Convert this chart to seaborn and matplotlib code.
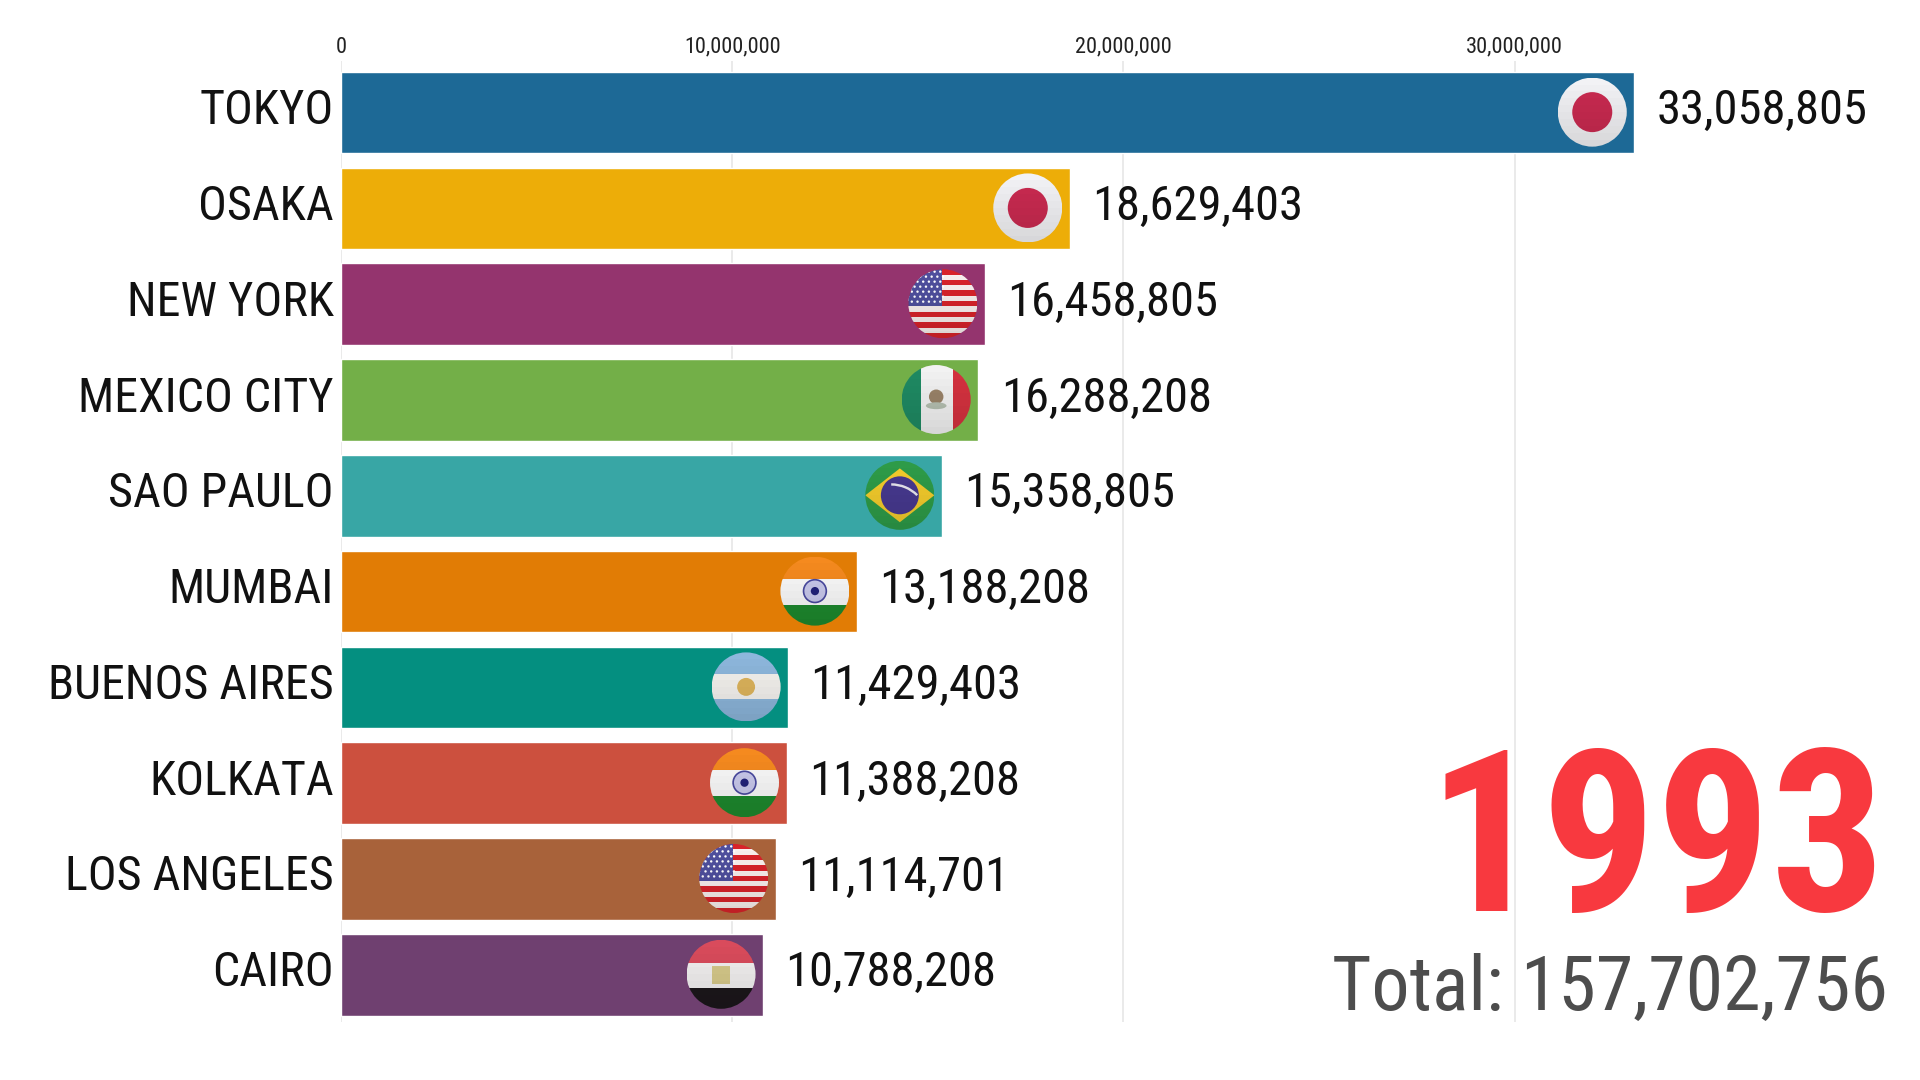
import matplotlib
matplotlib.use("Agg")
import matplotlib.pyplot as plt
import seaborn as sns
import pandas as pd
import numpy as np
from matplotlib.patches import Circle, Rectangle, Polygon, Ellipse, Wedge
from matplotlib.transforms import Affine2D
from matplotlib.ticker import FuncFormatter

cities = ["TOKYO", "OSAKA", "NEW YORK", "MEXICO CITY", "SAO PAULO", "MUMBAI",
          "BUENOS AIRES", "KOLKATA", "LOS ANGELES", "CAIRO"]
population = [33058805, 18629403, 16458805, 16288208, 15358805, 13188208,
              11429403, 11388208, 11114701, 10788208]
flags = ["jp", "jp", "us", "mx", "br", "in", "ar", "in", "us", "eg"]
bar_colors = ["#1D6996", "#EDAD08", "#94346E", "#73AF48", "#38A6A5", "#E17C05",
              "#048F80", "#CC503E", "#A8623A", "#6F4070"]
x_ticks = [0, 10000000, 20000000, 30000000]
year_label = "1993"
total_label = "Total: 157,702,756"

W, H = 1920, 1080
DPI = 100
sns.set_theme(style="white")
FONT = ["Roboto Condensed", "Liberation Sans Narrow", "Roboto", "DejaVu Sans"]
plt.rcParams["font.family"] = FONT

fig = plt.figure(figsize=(W / DPI, H / DPI), dpi=DPI, facecolor="white")
left, right, top, bottom = 341, 1905, 61, 1022
ax = fig.add_axes([left / W, 1 - bottom / H, (right - left) / W, (bottom - top) / H])

df = pd.DataFrame({"city": cities, "population": population})
sns.barplot(data=df, y="city", x="population", hue="city", palette=bar_colors,
            dodge=False, legend=False, width=0.852, ax=ax, saturation=1, zorder=3)

px_per_unit = 391.2 / 10000000
ax.set_xlim(0, (right - left) / px_per_unit)
ax.set_ylim(9.493, -0.539)
ax.set_xlabel("")
ax.set_ylabel("")
for s in ax.spines.values():
    s.set_visible(False)
ax.xaxis.tick_top()
ax.set_xticks(x_ticks)
ax.xaxis.set_major_formatter(FuncFormatter(lambda v, _: f"{int(v):,}"))
ax.tick_params(axis="x", length=0, pad=2.5, labelsize=16, labelcolor="#222222")
ax.grid(axis="x", color="#E6E6E6", linewidth=1.2, zorder=0)
ax.grid(axis="y", visible=False)
ax.set_axisbelow(True)
ax.set_yticks([])


def pt(px):
    return px * 72 / DPI


for i, (c, v) in enumerate(zip(cities, population)):
    ax.annotate(c, xy=(0, i), xytext=(pt(-7), pt(1.5)), textcoords="offset points",
                ha="right", va="center", fontsize=34.6, color="#111111", zorder=6)
    ax.annotate(f"{v:,}", xy=(v, i), xytext=(pt(22.5), pt(1.5)), textcoords="offset points",
                ha="left", va="center", fontsize=35, color="#111111", zorder=6)


def draw_flag(code, cx, cy, r):
    t = Affine2D().scale(r).translate(cx, cy)
    clip = Circle((0, 0), 1, transform=t)
    parts = []

    def rect(x0, y0, x1, y1, col):
        parts.append(Rectangle((x0, y0), x1 - x0, y1 - y0, facecolor=col, edgecolor="none"))

    if code == "jp":
        rect(-1, -1, 1, 1, "#F2F2F5")
        parts.append(Circle((0, 0), 0.58, facecolor="#C92A50", edgecolor="none"))
    elif code == "us":
        n = 13
        h = 2 / n
        for k in range(n):
            rect(-1, 1 - (k + 1) * h, 1, 1 - k * h, "#D8232A" if k % 2 == 0 else "#F9F0EE")
        rect(-1, 1 - 7 * h, -0.02, 1, "#4F4F9E")
        for row in range(7):
            for col in range(6):
                parts.append(Circle((-0.9 + col * 0.165 + (row % 2) * 0.08, 0.93 - row * 0.145),
                                    0.035, facecolor="white", edgecolor="none"))
    elif code == "mx":
        rect(-1, -1, -0.45, 1, "#1F8A63")
        rect(-0.45, -1, 0.5, 1, "#F2F2F2")
        rect(0.5, -1, 1, 1, "#D5323F")
        parts.append(Ellipse((0, 0.08), 0.42, 0.42, facecolor="#9A8368", edgecolor="none"))
        parts.append(Ellipse((0, -0.18), 0.6, 0.2, facecolor="#B4BFB0", edgecolor="none"))
    elif code == "br":
        rect(-1, -1, 1, 1, "#2E9B48")
        parts.append(Polygon([(-1, 0), (0, 0.78), (1, 0), (0, -0.78)], facecolor="#F3CB2C", edgecolor="none"))
        parts.append(Circle((0, 0), 0.55, facecolor="#47398F", edgecolor="none"))
        parts.append(Wedge((-0.25, -0.75), 1.1, 45, 90, width=0.07, facecolor="#E8E6EE", edgecolor="none"))
    elif code == "in":
        rect(-1, 0.36, 1, 1, "#F58A1F")
        rect(-1, -0.4, 1, 0.36, "#FAFAFA")
        rect(-1, -1, 1, -0.4, "#1E8A2E")
        parts.append(Circle((0, 0), 0.33, facecolor="#C9C9EC", edgecolor="#4A4AA0", linewidth=1.2))
        parts.append(Circle((0, 0), 0.12, facecolor="#22227A", edgecolor="none"))
    elif code == "ar":
        rect(-1, 0.36, 1, 1, "#8DB7DC")
        rect(-1, -0.36, 1, 0.36, "#F4F2EE")
        rect(-1, -1, 1, -0.36, "#8DB7DC")
        parts.append(Circle((0, 0), 0.26, facecolor="#DDB45C", edgecolor="none"))
    elif code == "eg":
        rect(-1, 0.34, 1, 1, "#D94B5C")
        rect(-1, -0.4, 1, 0.34, "#F2F0F0")
        rect(-1, -1, 1, -0.4, "#1C171B")
        parts.append(Rectangle((-0.26, -0.27), 0.52, 0.5, facecolor="#D6C98A", edgecolor="none"))
    for k in range(10):
        y0 = 1 - (k + 1) * 0.2
        a = 0.012 * k
        parts.append(Rectangle((-1, y0), 2, 0.2, facecolor="black", alpha=a, edgecolor="none"))
    for p in parts:
        p.set_transform(t)
        p.set_zorder(5)
        ax.add_artist(p)
        p.set_clip_path(clip)


for i, (code, v) in enumerate(zip(flags, population)):
    cx, cy = ax.transData.transform((v, i))
    draw_flag(code, cx - 42, cy + 0.5, 34.5)

fig.text(1886 / W, 1 - 911 / H, year_label, ha="right", va="baseline", fontsize=163,
         fontweight="bold", color="#F8393F")
fig.text(1888 / W, 1 - 1010 / H, total_label, ha="right", va="baseline", fontsize=54.6,
         color="#4D4D4D")

fig.savefig("out.png", dpi=DPI, facecolor="white")
